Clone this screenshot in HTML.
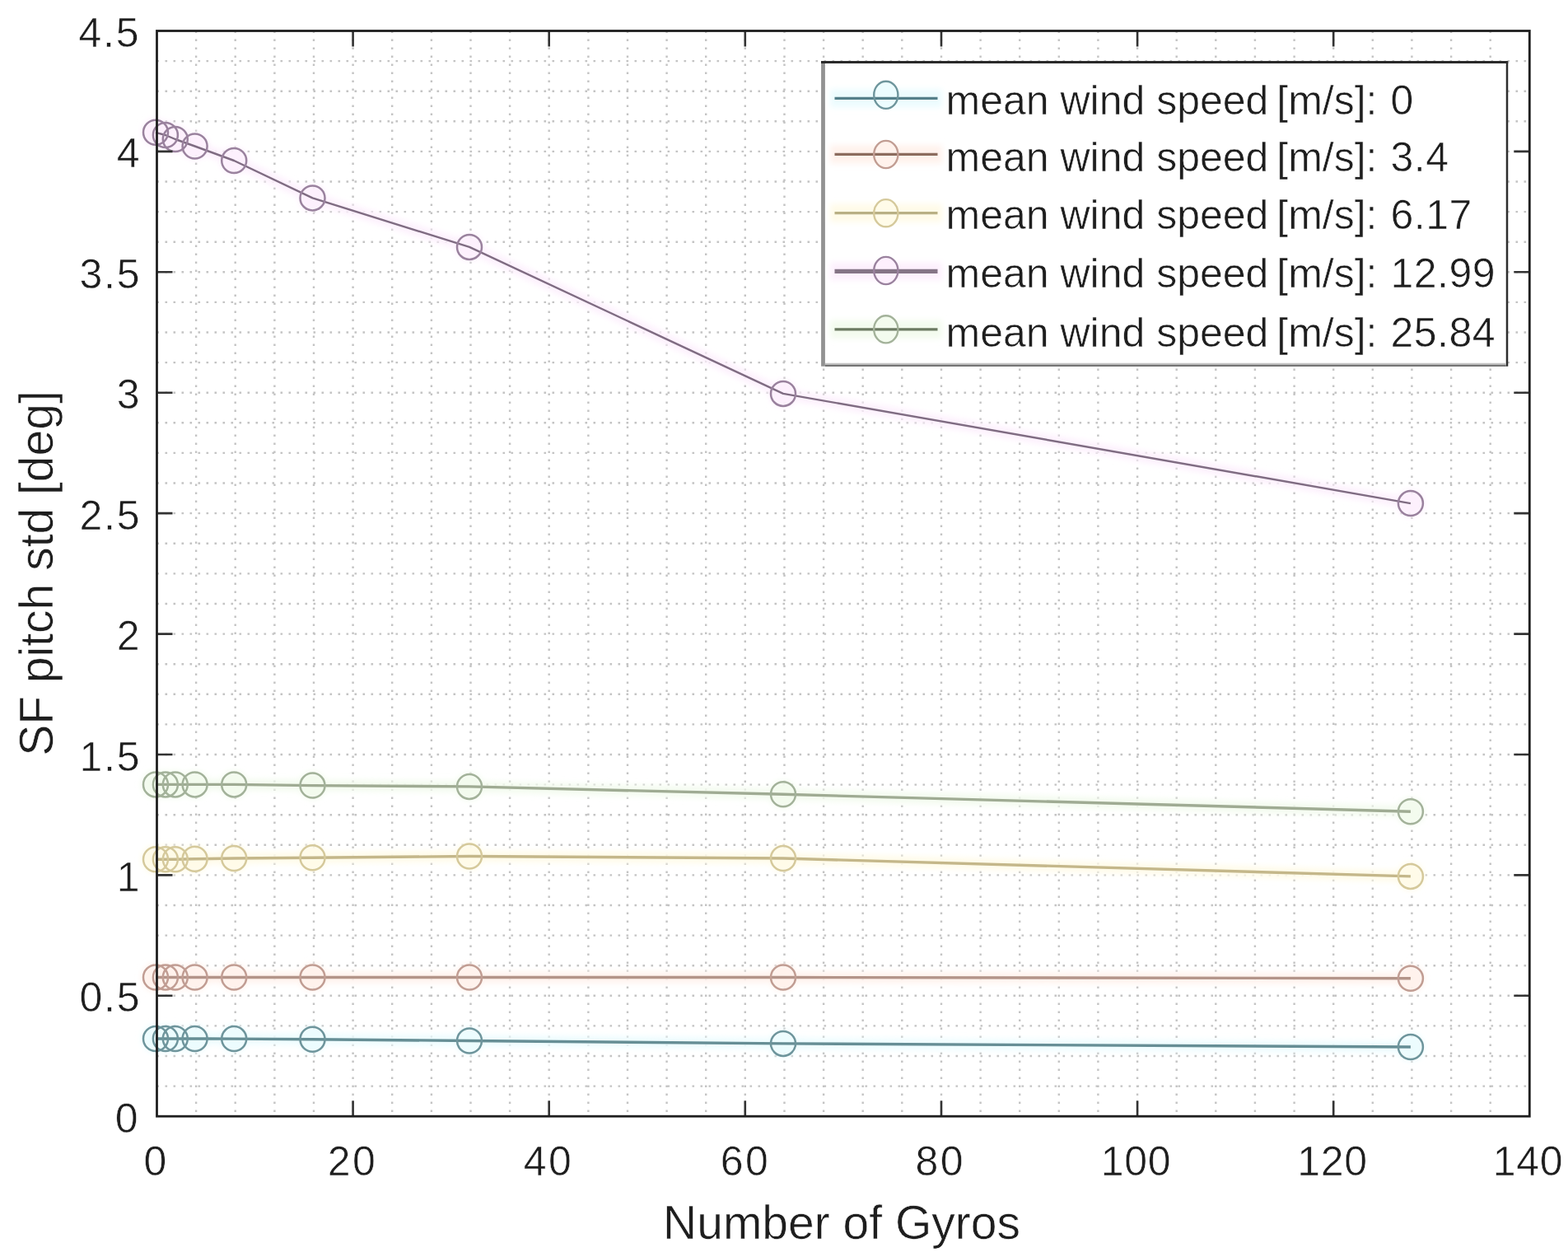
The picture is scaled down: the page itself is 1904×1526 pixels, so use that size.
<!DOCTYPE html>
<html><head><meta charset="utf-8"><title>SF pitch std vs Number of Gyros</title>
<style>html,body{margin:0;padding:0;background:#fff;}body{width:1904px;height:1526px;overflow:hidden;}svg{display:block;}text{font-family:"Liberation Sans", Arial, Helvetica, sans-serif;fill:#1e1e1e;stroke:#ffffff;stroke-width:0.55px;}</style>
</head><body>
<svg width="1904" height="1526" viewBox="0 0 1904 1526">
<rect x="0" y="0" width="1904" height="1526" fill="#ffffff"/>
<defs><filter id="hb" x="-20%" y="-50%" width="140%" height="200%"><feGaussianBlur stdDeviation="3.5"/></filter></defs>
<path d="M238.1 37.5V1355.2M285.7 37.5V1355.2M333.4 37.5V1355.2M381.0 37.5V1355.2M428.6 37.5V1355.2M476.2 37.5V1355.2M523.9 37.5V1355.2M571.5 37.5V1355.2M619.1 37.5V1355.2M666.7 37.5V1355.2M714.4 37.5V1355.2M762.0 37.5V1355.2M809.6 37.5V1355.2M857.2 37.5V1355.2M904.8 37.5V1355.2M952.5 37.5V1355.2M1000.1 37.5V1355.2M1047.7 37.5V1355.2M1095.3 37.5V1355.2M1143.0 37.5V1355.2M1190.6 37.5V1355.2M1238.2 37.5V1355.2M1285.8 37.5V1355.2M1333.4 37.5V1355.2M1381.1 37.5V1355.2M1428.7 37.5V1355.2M1476.3 37.5V1355.2M1523.9 37.5V1355.2M1571.6 37.5V1355.2M1619.2 37.5V1355.2M1666.8 37.5V1355.2M1714.4 37.5V1355.2M1762.1 37.5V1355.2M1809.7 37.5V1355.2M190.5 1318.6H1857.3M190.5 1282.0H1857.3M190.5 1245.4H1857.3M190.5 1208.8H1857.3M190.5 1172.2H1857.3M190.5 1135.6H1857.3M190.5 1099.0H1857.3M190.5 1062.4H1857.3M190.5 1025.8H1857.3M190.5 989.2H1857.3M190.5 952.6H1857.3M190.5 916.0H1857.3M190.5 879.4H1857.3M190.5 842.8H1857.3M190.5 806.2H1857.3M190.5 769.6H1857.3M190.5 733.0H1857.3M190.5 696.4H1857.3M190.5 659.7H1857.3M190.5 623.1H1857.3M190.5 586.5H1857.3M190.5 549.9H1857.3M190.5 513.3H1857.3M190.5 476.7H1857.3M190.5 440.1H1857.3M190.5 403.5H1857.3M190.5 366.9H1857.3M190.5 330.3H1857.3M190.5 293.7H1857.3M190.5 257.1H1857.3M190.5 220.5H1857.3M190.5 183.9H1857.3M190.5 147.3H1857.3M190.5 110.7H1857.3M190.5 74.1H1857.3" stroke="#c4c4c4" stroke-width="2.4" stroke-dasharray="2.6 7.4" fill="none"/>
<g filter="url(#hb)">
<polyline points="189.0,1261.0 200.9,1261.0 212.8,1261.0 236.6,1261.0 284.2,1261.1 379.5,1261.7 570.0,1263.5 951.0,1266.9 1712.9,1271.0" fill="none" stroke="#ecfcfe" stroke-width="13" stroke-linejoin="round" stroke-linecap="round"/>
<circle cx="189.0" cy="1261.0" r="17" fill="#ecfcfe"/>
<circle cx="200.9" cy="1261.0" r="17" fill="#ecfcfe"/>
<circle cx="212.8" cy="1261.0" r="17" fill="#ecfcfe"/>
<circle cx="236.6" cy="1261.0" r="17" fill="#ecfcfe"/>
<circle cx="284.2" cy="1261.1" r="17" fill="#ecfcfe"/>
<circle cx="379.5" cy="1261.7" r="17" fill="#ecfcfe"/>
<circle cx="570.0" cy="1263.5" r="17" fill="#ecfcfe"/>
<circle cx="951.0" cy="1266.9" r="17" fill="#ecfcfe"/>
<circle cx="1712.9" cy="1271.0" r="17" fill="#ecfcfe"/>
<polyline points="189.0,1186.5 200.9,1186.5 212.8,1186.5 236.6,1186.5 284.2,1186.5 379.5,1186.5 570.0,1186.5 951.0,1186.5 1712.9,1187.7" fill="none" stroke="#fff2ec" stroke-width="13" stroke-linejoin="round" stroke-linecap="round"/>
<circle cx="189.0" cy="1186.5" r="17" fill="#fff2ec"/>
<circle cx="200.9" cy="1186.5" r="17" fill="#fff2ec"/>
<circle cx="212.8" cy="1186.5" r="17" fill="#fff2ec"/>
<circle cx="236.6" cy="1186.5" r="17" fill="#fff2ec"/>
<circle cx="284.2" cy="1186.5" r="17" fill="#fff2ec"/>
<circle cx="379.5" cy="1186.5" r="17" fill="#fff2ec"/>
<circle cx="570.0" cy="1186.5" r="17" fill="#fff2ec"/>
<circle cx="951.0" cy="1186.5" r="17" fill="#fff2ec"/>
<circle cx="1712.9" cy="1187.7" r="17" fill="#fff2ec"/>
<polyline points="189.0,1043.3 200.9,1043.3 212.8,1043.3 236.6,1042.8 284.2,1042.0 379.5,1041.3 570.0,1039.5 951.0,1042.0 1712.9,1063.9" fill="none" stroke="#fffbe8" stroke-width="13" stroke-linejoin="round" stroke-linecap="round"/>
<circle cx="189.0" cy="1043.3" r="17" fill="#fffbe8"/>
<circle cx="200.9" cy="1043.3" r="17" fill="#fffbe8"/>
<circle cx="212.8" cy="1043.3" r="17" fill="#fffbe8"/>
<circle cx="236.6" cy="1042.8" r="17" fill="#fffbe8"/>
<circle cx="284.2" cy="1042.0" r="17" fill="#fffbe8"/>
<circle cx="379.5" cy="1041.3" r="17" fill="#fffbe8"/>
<circle cx="570.0" cy="1039.5" r="17" fill="#fffbe8"/>
<circle cx="951.0" cy="1042.0" r="17" fill="#fffbe8"/>
<circle cx="1712.9" cy="1063.9" r="17" fill="#fffbe8"/>
<polyline points="189.0,160.8 200.9,164.0 212.8,169.0 236.6,177.5 284.2,195.0 379.5,240.4 570.0,299.9 951.0,477.9 1712.9,611.1" fill="none" stroke="#fdf0fd" stroke-width="13" stroke-linejoin="round" stroke-linecap="round"/>
<circle cx="189.0" cy="160.8" r="17" fill="#fdf0fd"/>
<circle cx="200.9" cy="164.0" r="17" fill="#fdf0fd"/>
<circle cx="212.8" cy="169.0" r="17" fill="#fdf0fd"/>
<circle cx="236.6" cy="177.5" r="17" fill="#fdf0fd"/>
<circle cx="284.2" cy="195.0" r="17" fill="#fdf0fd"/>
<circle cx="379.5" cy="240.4" r="17" fill="#fdf0fd"/>
<circle cx="570.0" cy="299.9" r="17" fill="#fdf0fd"/>
<circle cx="951.0" cy="477.9" r="17" fill="#fdf0fd"/>
<circle cx="1712.9" cy="611.1" r="17" fill="#fdf0fd"/>
<polyline points="189.0,952.4 200.9,952.4 212.8,952.4 236.6,952.4 284.2,952.4 379.5,953.6 570.0,954.9 951.0,964.3 1712.9,985.2" fill="none" stroke="#f3fbee" stroke-width="13" stroke-linejoin="round" stroke-linecap="round"/>
<circle cx="189.0" cy="952.4" r="17" fill="#f3fbee"/>
<circle cx="200.9" cy="952.4" r="17" fill="#f3fbee"/>
<circle cx="212.8" cy="952.4" r="17" fill="#f3fbee"/>
<circle cx="236.6" cy="952.4" r="17" fill="#f3fbee"/>
<circle cx="284.2" cy="952.4" r="17" fill="#f3fbee"/>
<circle cx="379.5" cy="953.6" r="17" fill="#f3fbee"/>
<circle cx="570.0" cy="954.9" r="17" fill="#f3fbee"/>
<circle cx="951.0" cy="964.3" r="17" fill="#f3fbee"/>
<circle cx="1712.9" cy="985.2" r="17" fill="#f3fbee"/>
</g>
<polyline points="189.0,1261.0 200.9,1261.0 212.8,1261.0 236.6,1261.0 284.2,1261.1 379.5,1261.7 570.0,1263.5 951.0,1266.9 1712.9,1271.0" fill="none" stroke="#668e95" stroke-width="3.4" stroke-linejoin="round"/>
<circle cx="189.0" cy="1261.0" r="15" fill="none" stroke="#6e959c" stroke-width="2.5"/>
<circle cx="200.9" cy="1261.0" r="15" fill="none" stroke="#6e959c" stroke-width="2.5"/>
<circle cx="212.8" cy="1261.0" r="15" fill="none" stroke="#6e959c" stroke-width="2.5"/>
<circle cx="236.6" cy="1261.0" r="15" fill="none" stroke="#6e959c" stroke-width="2.5"/>
<circle cx="284.2" cy="1261.1" r="15" fill="none" stroke="#6e959c" stroke-width="2.5"/>
<circle cx="379.5" cy="1261.7" r="15" fill="none" stroke="#6e959c" stroke-width="2.5"/>
<circle cx="570.0" cy="1263.5" r="15" fill="none" stroke="#6e959c" stroke-width="2.5"/>
<circle cx="951.0" cy="1266.9" r="15" fill="none" stroke="#6e959c" stroke-width="2.5"/>
<circle cx="1712.9" cy="1271.0" r="15" fill="none" stroke="#6e959c" stroke-width="2.5"/>
<polyline points="189.0,1186.5 200.9,1186.5 212.8,1186.5 236.6,1186.5 284.2,1186.5 379.5,1186.5 570.0,1186.5 951.0,1186.5 1712.9,1187.7" fill="none" stroke="#b39489" stroke-width="3.4" stroke-linejoin="round"/>
<circle cx="189.0" cy="1186.5" r="15" fill="none" stroke="#c19d93" stroke-width="2.5"/>
<circle cx="200.9" cy="1186.5" r="15" fill="none" stroke="#c19d93" stroke-width="2.5"/>
<circle cx="212.8" cy="1186.5" r="15" fill="none" stroke="#c19d93" stroke-width="2.5"/>
<circle cx="236.6" cy="1186.5" r="15" fill="none" stroke="#c19d93" stroke-width="2.5"/>
<circle cx="284.2" cy="1186.5" r="15" fill="none" stroke="#c19d93" stroke-width="2.5"/>
<circle cx="379.5" cy="1186.5" r="15" fill="none" stroke="#c19d93" stroke-width="2.5"/>
<circle cx="570.0" cy="1186.5" r="15" fill="none" stroke="#c19d93" stroke-width="2.5"/>
<circle cx="951.0" cy="1186.5" r="15" fill="none" stroke="#c19d93" stroke-width="2.5"/>
<circle cx="1712.9" cy="1187.7" r="15" fill="none" stroke="#c19d93" stroke-width="2.5"/>
<polyline points="189.0,1043.3 200.9,1043.3 212.8,1043.3 236.6,1042.8 284.2,1042.0 379.5,1041.3 570.0,1039.5 951.0,1042.0 1712.9,1063.9" fill="none" stroke="#c4b78a" stroke-width="3.4" stroke-linejoin="round"/>
<circle cx="189.0" cy="1043.3" r="15" fill="none" stroke="#d5c99b" stroke-width="2.5"/>
<circle cx="200.9" cy="1043.3" r="15" fill="none" stroke="#d5c99b" stroke-width="2.5"/>
<circle cx="212.8" cy="1043.3" r="15" fill="none" stroke="#d5c99b" stroke-width="2.5"/>
<circle cx="236.6" cy="1042.8" r="15" fill="none" stroke="#d5c99b" stroke-width="2.5"/>
<circle cx="284.2" cy="1042.0" r="15" fill="none" stroke="#d5c99b" stroke-width="2.5"/>
<circle cx="379.5" cy="1041.3" r="15" fill="none" stroke="#d5c99b" stroke-width="2.5"/>
<circle cx="570.0" cy="1039.5" r="15" fill="none" stroke="#d5c99b" stroke-width="2.5"/>
<circle cx="951.0" cy="1042.0" r="15" fill="none" stroke="#d5c99b" stroke-width="2.5"/>
<circle cx="1712.9" cy="1063.9" r="15" fill="none" stroke="#d5c99b" stroke-width="2.5"/>
<polyline points="189.0,160.8 200.9,164.0 212.8,169.0 236.6,177.5 284.2,195.0 379.5,240.4 570.0,299.9 951.0,477.9 1712.9,611.1" fill="none" stroke="#7f6c82" stroke-width="2.4" stroke-linejoin="round"/>
<circle cx="189.0" cy="160.8" r="15" fill="none" stroke="#9a829e" stroke-width="2.5"/>
<circle cx="200.9" cy="164.0" r="15" fill="none" stroke="#9a829e" stroke-width="2.5"/>
<circle cx="212.8" cy="169.0" r="15" fill="none" stroke="#9a829e" stroke-width="2.5"/>
<circle cx="236.6" cy="177.5" r="15" fill="none" stroke="#9a829e" stroke-width="2.5"/>
<circle cx="284.2" cy="195.0" r="15" fill="none" stroke="#9a829e" stroke-width="2.5"/>
<circle cx="379.5" cy="240.4" r="15" fill="none" stroke="#9a829e" stroke-width="2.5"/>
<circle cx="570.0" cy="299.9" r="15" fill="none" stroke="#9a829e" stroke-width="2.5"/>
<circle cx="951.0" cy="477.9" r="15" fill="none" stroke="#9a829e" stroke-width="2.5"/>
<circle cx="1712.9" cy="611.1" r="15" fill="none" stroke="#9a829e" stroke-width="2.5"/>
<polyline points="189.0,952.4 200.9,952.4 212.8,952.4 236.6,952.4 284.2,952.4 379.5,953.6 570.0,954.9 951.0,964.3 1712.9,985.2" fill="none" stroke="#9fab93" stroke-width="3.4" stroke-linejoin="round"/>
<circle cx="189.0" cy="952.4" r="15" fill="none" stroke="#a3b29a" stroke-width="2.5"/>
<circle cx="200.9" cy="952.4" r="15" fill="none" stroke="#a3b29a" stroke-width="2.5"/>
<circle cx="212.8" cy="952.4" r="15" fill="none" stroke="#a3b29a" stroke-width="2.5"/>
<circle cx="236.6" cy="952.4" r="15" fill="none" stroke="#a3b29a" stroke-width="2.5"/>
<circle cx="284.2" cy="952.4" r="15" fill="none" stroke="#a3b29a" stroke-width="2.5"/>
<circle cx="379.5" cy="953.6" r="15" fill="none" stroke="#a3b29a" stroke-width="2.5"/>
<circle cx="570.0" cy="954.9" r="15" fill="none" stroke="#a3b29a" stroke-width="2.5"/>
<circle cx="951.0" cy="964.3" r="15" fill="none" stroke="#a3b29a" stroke-width="2.5"/>
<circle cx="1712.9" cy="985.2" r="15" fill="none" stroke="#a3b29a" stroke-width="2.5"/>
<path d="M428.6 1355.2V1336.2M428.6 37.5V56.5M666.7 1355.2V1336.2M666.7 37.5V56.5M904.8 1355.2V1336.2M904.8 37.5V56.5M1143.0 1355.2V1336.2M1143.0 37.5V56.5M1381.1 1355.2V1336.2M1381.1 37.5V56.5M1619.2 1355.2V1336.2M1619.2 37.5V56.5M190.5 1208.8H209.5M1857.3 1208.8H1838.3M190.5 1062.4H209.5M1857.3 1062.4H1838.3M190.5 916.0H209.5M1857.3 916.0H1838.3M190.5 769.6H209.5M1857.3 769.6H1838.3M190.5 623.1H209.5M1857.3 623.1H1838.3M190.5 476.7H209.5M1857.3 476.7H1838.3M190.5 330.3H209.5M1857.3 330.3H1838.3M190.5 183.9H209.5M1857.3 183.9H1838.3" stroke="#333333" stroke-width="2.6" fill="none"/>
<rect x="190.5" y="37.5" width="1666.8" height="1317.7" fill="none" stroke="#1e1e1e" stroke-width="2.8"/>
<text x="167.5" y="1374.7" font-size="50" text-anchor="end" letter-spacing="0.0">0</text>
<text x="171.3" y="1228.3" font-size="50" text-anchor="end" letter-spacing="1.8">0.5</text>
<text x="169.5" y="1081.9" font-size="50" text-anchor="end" letter-spacing="0.0">1</text>
<text x="171.3" y="935.5" font-size="50" text-anchor="end" letter-spacing="1.8">1.5</text>
<text x="169.5" y="789.1" font-size="50" text-anchor="end" letter-spacing="0.0">2</text>
<text x="171.3" y="642.6" font-size="50" text-anchor="end" letter-spacing="1.8">2.5</text>
<text x="169.5" y="496.2" font-size="50" text-anchor="end" letter-spacing="0.0">3</text>
<text x="171.3" y="349.8" font-size="50" text-anchor="end" letter-spacing="1.8">3.5</text>
<text x="169.5" y="203.4" font-size="50" text-anchor="end" letter-spacing="0.0">4</text>
<text x="170.3" y="57.0" font-size="50" text-anchor="end" letter-spacing="1.8">4.5</text>
<text x="188.3" y="1427.0" font-size="50" text-anchor="middle" letter-spacing="0.0">0</text>
<text x="428.1" y="1427.0" font-size="50" text-anchor="middle" letter-spacing="2.5">20</text>
<text x="666.0" y="1427.0" font-size="50" text-anchor="middle" letter-spacing="2.5">40</text>
<text x="905.1" y="1427.0" font-size="50" text-anchor="middle" letter-spacing="2.5">60</text>
<text x="1141.8" y="1427.0" font-size="50" text-anchor="middle" letter-spacing="2.5">80</text>
<text x="1379.4" y="1427.0" font-size="50" text-anchor="middle" letter-spacing="0.7">100</text>
<text x="1617.9" y="1427.0" font-size="50" text-anchor="middle" letter-spacing="0.7">120</text>
<text x="1855.5" y="1427.0" font-size="50" text-anchor="middle" letter-spacing="0.7">140</text>
<text x="1022.0" y="1504.0" font-size="57" text-anchor="middle">Number of Gyros</text>
<text transform="translate(64 696) rotate(-90)" font-size="57" text-anchor="middle">SF pitch std [deg]</text>
<rect x="999.5" y="75.5" width="830.5" height="367.0" fill="#ffffff"/>
<path d="M997.0 75.5H1831.3" stroke="#2a2a2a" stroke-width="2.8" fill="none"/>
<path d="M1830.0 75.5V444.8" stroke="#2e2e2e" stroke-width="2.5" fill="none"/>
<path d="M999.5 76.9V444.8" stroke="#929292" stroke-width="4.8" fill="none"/>
<path d="M1001.9 441.8H1828.8" stroke="#c2c2c2" stroke-width="2" fill="none"/>
<path d="M1001.9 443.9H1828.8" stroke="#747474" stroke-width="2.2" fill="none"/>
<rect x="1008" y="108.4" width="136" height="22" fill="#ecfcfe" filter="url(#hb)"/>
<ellipse cx="1075.8" cy="115.3" rx="14.6" ry="16.6" fill="#ecfcfe"/>
<line x1="1013.5" y1="119.4" x2="1138.5" y2="119.4" stroke="#55808a" stroke-width="3.2"/>
<ellipse cx="1075.8" cy="115.3" rx="14.6" ry="16.6" fill="none" stroke="#6e959c" stroke-width="2.4"/>
<text y="139.3" font-size="50"><tspan x="1148.5">mean wind speed</tspan> <tspan x="1550.3">[m/s]:</tspan> <tspan x="1688.5" letter-spacing="0.5">0</tspan></text>
<rect x="1008" y="176.4" width="136" height="22" fill="#fff2ec" filter="url(#hb)"/>
<ellipse cx="1075.8" cy="187.5" rx="14.6" ry="16.6" fill="#fff2ec"/>
<line x1="1013.5" y1="187.4" x2="1138.5" y2="187.4" stroke="#8c6c5e" stroke-width="3.2"/>
<ellipse cx="1075.8" cy="187.5" rx="14.6" ry="16.6" fill="none" stroke="#c19d93" stroke-width="2.4"/>
<text y="208.0" font-size="50"><tspan x="1148.5">mean wind speed</tspan> <tspan x="1550.3">[m/s]:</tspan> <tspan x="1688.5" letter-spacing="0.5">3.4</tspan></text>
<rect x="1008" y="247.6" width="136" height="22" fill="#fffbe8" filter="url(#hb)"/>
<ellipse cx="1075.8" cy="258.7" rx="14.6" ry="16.6" fill="#fffbe8"/>
<line x1="1013.5" y1="258.6" x2="1138.5" y2="258.6" stroke="#b9b084" stroke-width="3.2"/>
<ellipse cx="1075.8" cy="258.7" rx="14.6" ry="16.6" fill="none" stroke="#d5c99b" stroke-width="2.4"/>
<text y="277.8" font-size="50"><tspan x="1148.5">mean wind speed</tspan> <tspan x="1550.3">[m/s]:</tspan> <tspan x="1688.5" letter-spacing="0.5">6.17</tspan></text>
<rect x="1008" y="318.4" width="136" height="22" fill="#fdf0fd" filter="url(#hb)"/>
<ellipse cx="1075.8" cy="328.5" rx="14.6" ry="16.6" fill="#fdf0fd"/>
<line x1="1013.5" y1="329.4" x2="1138.5" y2="329.4" stroke="#857486" stroke-width="5.3"/>
<ellipse cx="1075.8" cy="328.5" rx="14.6" ry="16.6" fill="none" stroke="#9a829e" stroke-width="2.4"/>
<text y="349.0" font-size="50"><tspan x="1148.5">mean wind speed</tspan> <tspan x="1550.3">[m/s]:</tspan> <tspan x="1688.5" letter-spacing="0.5">12.99</tspan></text>
<rect x="1008" y="388.8" width="136" height="22" fill="#f3fbee" filter="url(#hb)"/>
<ellipse cx="1075.8" cy="399.8" rx="14.6" ry="16.6" fill="#f3fbee"/>
<line x1="1013.5" y1="399.8" x2="1138.5" y2="399.8" stroke="#6c7a62" stroke-width="3.2"/>
<ellipse cx="1075.8" cy="399.8" rx="14.6" ry="16.6" fill="none" stroke="#a3b29a" stroke-width="2.4"/>
<text y="420.5" font-size="50"><tspan x="1148.5">mean wind speed</tspan> <tspan x="1550.3">[m/s]:</tspan> <tspan x="1688.5" letter-spacing="0.5">25.84</tspan></text>
</svg>
</body></html>
